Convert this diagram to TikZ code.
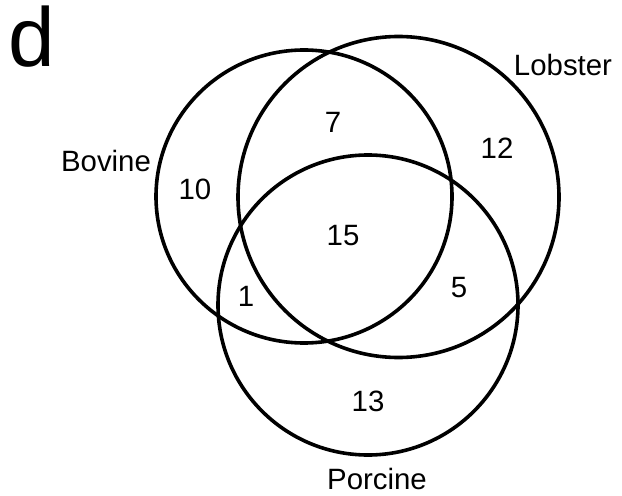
\documentclass[tikz,border=0pt]{standalone}
\usepackage{fontspec}
\setmainfont{Liberation Sans}
\begin{document}
\begin{tikzpicture}[x=1bp,y=-1bp,
  setc/.style={draw=black,line width=3.6bp},
  lbl/.style={font=\fontsize{29.5}{32}\selectfont,inner sep=0pt}]
\useasboundingbox (0,0) rectangle (622,496);
\draw[setc] (304,196.5) ellipse [x radius=148, y radius=146.5];
\draw[setc] (398.5,197) circle [radius=160.5];
\draw[setc] (368,305) circle [radius=150];
\node[font=\fontsize{84}{88}\selectfont,inner sep=0pt,anchor=base west] (d) at (8,67) {d};
\node[lbl] (bovine) at (106,161) {Bovine};
\node[lbl] (lobster) at (563,65) {Lobster};
\node[lbl] (porcine) at (377,479) {Porcine};
\node[lbl] (n7) at (333,122) {7};
\node[lbl] (n12) at (497,148) {12};
\node[lbl] (n10) at (195,189) {10};
\node[lbl] (n15) at (343,236) {15};
\node[lbl] (n1) at (246,296) {1};
\node[lbl] (n5) at (459,288) {5};
\node[lbl] (n13) at (368,401) {13};
\end{tikzpicture}
\end{document}
